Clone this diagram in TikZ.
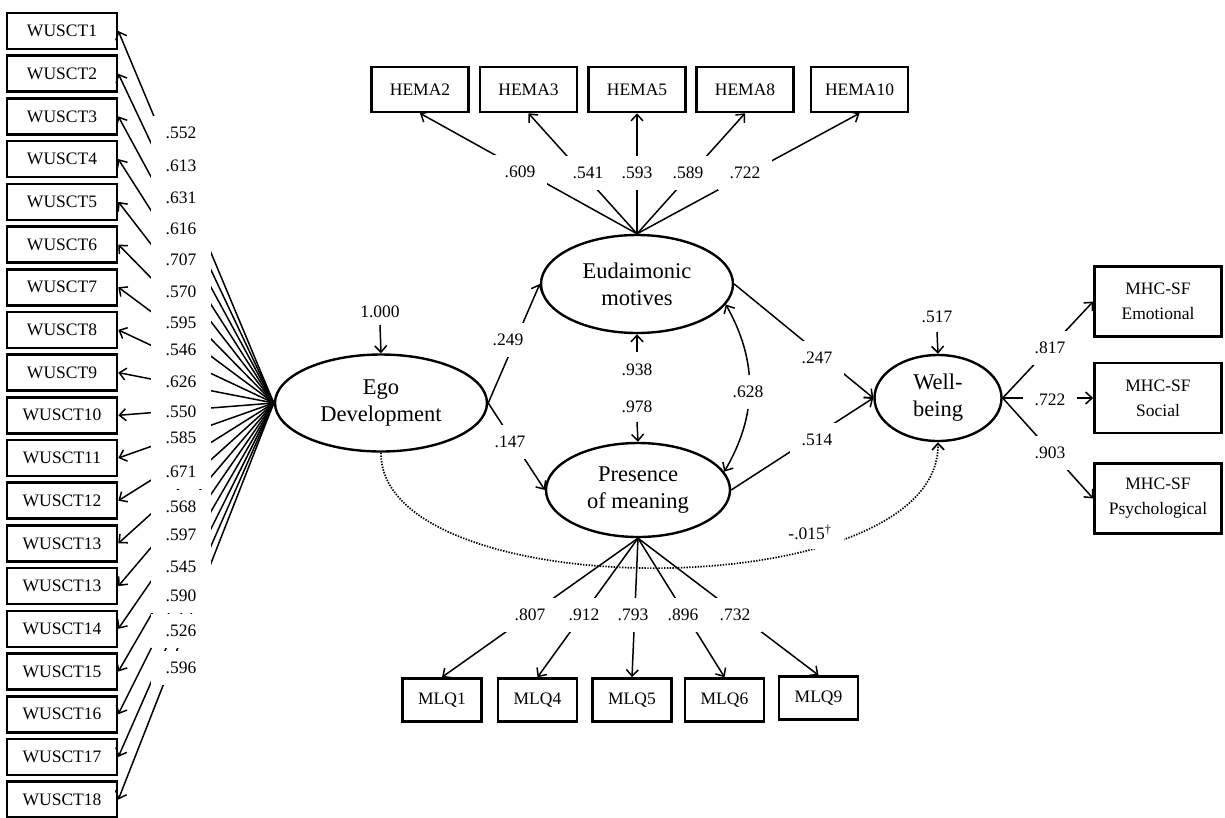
\documentclass[tikz,border=0pt]{standalone}
\usepackage{fontspec}
\setmainfont{Liberation Serif}
\usetikzlibrary{arrows.meta,shapes.geometric}
\begin{document}
\begin{tikzpicture}[x=1pt,y=-1pt,
  font=\fontsize{17.5}{21}\selectfont,
  wbox/.style={draw,line width=2.6pt,inner sep=0pt,minimum width=110pt,minimum height=36pt},
  hbox/.style={draw,line width=2.6pt,inner sep=0pt,minimum width=97pt,minimum height=45pt},
  mbox/.style={draw,line width=2.6pt,inner sep=0pt,minimum width=79pt,minimum height=43pt},
  rbox/.style={draw,line width=2.6pt,inner sep=0pt,minimum width=127pt,minimum height=70pt,align=center,font=\fontsize{17.5}{25}\selectfont},
  lat/.style={ellipse,draw,line width=2.4pt,inner sep=0pt,align=center,font=\fontsize{22.5}{27}\selectfont},
  lbl/.style={fill=white,inner xsep=12pt,inner ysep=0pt,minimum height=34pt},
  wlbl/.style={fill=white,inner sep=0pt,minimum width=60pt,minimum height=34pt},
  nlbl/.style={inner sep=0pt},
  arr/.style={line width=1.5pt,-{Straight Barb[length=6.5pt,width=12pt]}},
  darr/.style={line width=1.5pt,{Straight Barb[length=6.5pt,width=12pt]}-{Straight Barb[length=6.5pt,width=12pt]}},
  dotarr/.style={line width=1.7pt,dash pattern=on 1.4pt off 1.4pt,-{Straight Barb[length=6.5pt,width=12pt]}}
]
\useasboundingbox (0,0) rectangle (1225,817);

% latent variables
\node[lat,minimum width=212pt,minimum height=97pt] (ego) at (381,403) {Ego\\Development};
\node[lat,minimum width=192pt,minimum height=98pt] (eud) at (637,284) {Eudaimonic\\motives};
\node[lat,minimum width=184pt,minimum height=94pt] (pres) at (638,490) {Presence\\of meaning};
\node[lat,minimum width=127pt,minimum height=86pt] (well) at (938,398) {Well-\\being};

% WUSCT indicators
\foreach \i/\t in {1/WUSCT1,2/WUSCT2,3/WUSCT3,4/WUSCT4,5/WUSCT5,6/WUSCT6,7/WUSCT7,8/WUSCT8,9/WUSCT9,10/WUSCT10,11/WUSCT11,12/WUSCT12,13/WUSCT13,14/WUSCT13,15/WUSCT14,16/WUSCT15,17/WUSCT16,18/WUSCT17,19/WUSCT18}
  \node[wbox] (w\i) at (62,{31+42.7*(\i-1)}) {\t};

% HEMA indicators
\node[hbox] (h2) at (420,89.5) {HEMA2};
\node[hbox] (h3) at (528.5,89.5) {HEMA3};
\node[hbox] (h5) at (637,89.5) {HEMA5};
\node[hbox] (h8) at (745,89.5) {HEMA8};
\node[hbox] (h10) at (859.5,89.5) {HEMA10};

% MLQ indicators
\node[mbox] (m1) at (442,700) {MLQ1};
\node[mbox] (m4) at (537.5,700) {MLQ4};
\node[mbox] (m5) at (632,700) {MLQ5};
\node[mbox] (m6) at (724.5,700) {MLQ6};
\node[mbox] (m9) at (818.5,698) {MLQ9};

% MHC-SF indicators
\node[rbox] (r1) at (1158,301.5) {MHC-SF\\Emotional};
\node[rbox] (r2) at (1158,398) {MHC-SF\\Social};
\node[rbox] (r3) at (1158,498.5) {MHC-SF\\Psychological};

% residual arrow origins
\coordinate (e0) at (380,325);
\coordinate (e1) at (637,352);
\coordinate (e2) at (637,422);
\coordinate (e3) at (937,332);

% connectors
\foreach \i in {1,...,19} \draw[arr] (ego.west) -- (w\i.east);
\foreach \h in {h2,h3,h5,h8,h10} \draw[arr] (eud.north) -- (\h.south);
\foreach \m in {m1,m4,m5,m6,m9} \draw[arr] (pres.south) -- (\m.north);
\foreach \r in {r1,r2,r3} \draw[arr] (well.east) -- (\r.west);
\draw[arr] (ego.east) -- (eud.west);
\draw[arr] (ego.east) -- (pres.west);
\draw[arr] (eud.east) -- (well.west);
\draw[arr] (pres.east) -- (well.west);
\draw[darr] (eud.-13) to[bend left=30] (pres.12);
\draw[dotarr] (ego.south) .. controls (380,608) and (940,608) .. (well.south);
\draw[arr] (e0) -- (ego.north);
\draw[arr] (e1) -- (eud.south);
\draw[arr] (e2) -- (pres.north);
\draw[arr] (e3) -- (well.north);

% WUSCT loadings
\foreach \v/\y [count=\k] in {.552/133,.613/166,.631/198,.616/229,.707/260,.570/292,.595/323,.546/350,.626/382,.550/412,.585/438,.671/472,.568/507,.597/535,.545/567,.590/596,.526/631,.596/668}
  \node[wlbl] (lw\k) at (181,\y) {\v};

% HEMA loadings
\node[lbl] (lh2) at (520,172) {.609};
\node[lbl] (lh3) at (588,173) {.541};
\node[lbl] (lh5) at (637,173) {.593};
\node[lbl] (lh8) at (688,173) {.589};
\node[lbl] (lh10) at (745,173) {.722};

% MLQ loadings
\node[lbl] (lm1) at (530,615) {.807};
\node[lbl] (lm4) at (584,615) {.912};
\node[lbl] (lm5) at (633,615) {.793};
\node[lbl] (lm6) at (683,615) {.896};
\node[lbl] (lm9) at (735,615) {.732};

% MHC loadings
\node[lbl] (lr1) at (1050,348) {.817};
\node[lbl] (lr2) at (1050,400) {.722};
\node[lbl] (lr3) at (1050,453) {.903};

% structural paths
\node[lbl] (l249) at (508,340) {.249};
\node[lbl] (l147) at (510,442) {.147};
\node[lbl] (l247) at (817,358) {.247};
\node[lbl] (l514) at (817,440) {.514};
\node[lbl] (l628) at (748,392) {.628};
\node[lbl] (l015) at (810,532) {-.015\textsuperscript{†}};

% residual values
\node[nlbl] (v0) at (380,312) {1.000};
\node[lbl] (v1) at (637,370) {.938};
\node[lbl,fill=none] (v2) at (637,407) {.978};
\node[nlbl] (v3) at (937,317) {.517};
\end{tikzpicture}
\end{document}
